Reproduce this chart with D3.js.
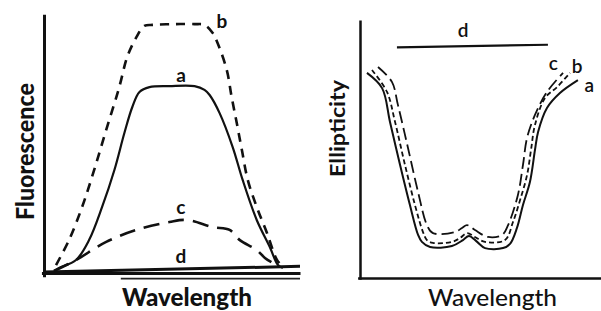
<!DOCTYPE html>
<html>
<head>
<meta charset="utf-8">
<script src="https://cdn.jsdelivr.net/npm/d3@7"></script>
<style>
  body { margin: 0; background: #fff; }
  text { font-family: Lato, "Open Sans", sans-serif; fill: #111; }
</style>
</head>
<body>
<script>
// fluorescence panel, wavelength (0-100) vs intensity (0-100)
const fluorA = [[3.9,0.8],[5.9,2.0],[12.5,5.1],[17.6,12.9],[22.7,25.9],[27.5,40.4],[31.4,54.9],[34.5,65.1],[37.3,71.0],[41.2,72.9],[49,73.3],[58.8,73.3],[62.7,71.8],[64.7,69.8],[68.6,62.7],[73.7,49.4],[77.6,36.5],[83.1,20.8],[88.2,10.2],[91.4,3.1],[93.3,2.0]];
const fluorB = [[4.7,3.1],[9.8,13],[14.9,25.9],[19.6,40.4],[24.3,56.1],[29.4,72.9],[32.5,84.7],[36.1,92.5],[39.2,96.9],[42.4,97.3],[51,97.6],[58.8,97.6],[62.7,97.3],[65.9,94.1],[67.8,90.2],[71.4,79.6],[73.3,69],[75.3,58.8],[77.3,48.2],[79.6,36.5],[83.1,25.9],[87.1,15.7],[91,5.1],[93.3,2.4]];
const fluorC = [[3.9,0.8],[12.5,5.1],[24.3,12.2],[36.1,16.9],[49,20],[55.7,20.8],[65.9,18],[72.5,16.9],[76.5,12.9],[83.1,9],[86.3,5.9],[89.4,3.9]];
const fluorD = [[0,0.4],[100,2.6]];

// CD panel, wavelength (0-100) vs ellipticity (0-100)
const cdA = [[2.9,79.5],[9.2,73.6],[12.5,60.5],[16.7,43.8],[20.8,28.3],[24.2,16.7],[25.8,14],[29.2,12],[38.3,12.4],[42.9,14.7],[45.4,16.3],[48.8,14],[52.1,11.6],[59.6,11.6],[62.5,13.2],[65.4,19.4],[67.9,28.3],[70.8,37.2],[72.9,49.6],[74.2,56.6],[77.9,65.9],[83.3,71.7],[90.8,76.7]];
const cdB = [[5,80.6],[11.25,72.1],[14.6,60.5],[18.75,43.8],[22.9,28.3],[26.25,17.8],[27.9,14.7],[30.4,13.6],[38.3,14],[41.7,15.5],[44.6,17.4],[47.9,15.9],[52.1,14],[60.4,14.7],[63.75,21.7],[66.7,30.2],[69.6,39.9],[71.25,49.6],[72.9,59.3],[77.1,69.8],[82.1,74],[87.5,79.5]];
const cdC = [[7.5,81.8],[13.3,76],[15.8,67.1],[20,50.4],[24.2,33.3],[27.9,20.5],[30.4,17.4],[39.6,17.8],[42.5,19.4],[44.6,20.5],[47.9,18.6],[53.3,15.9],[59.2,16.7],[61.7,20.5],[65.8,32.2],[67.9,43.8],[69.6,54.3],[72.9,63.2],[77.9,72.1],[84.6,79.5]];
const cdD = [[15.4,89.4],[78.3,90.4]];

const fluorLabels = [["a",53.5,75],["b",69.5,96],["c",53.5,23],["d",53.5,4]];
const cdLabels = [["d",43,93.5],["c",80.5,80.5],["b",90.5,79.5],["a",95.5,72]];

const width = 601, height = 311;

const svg = d3.select('body')
  .append('svg')
  .attr('width', width)
  .attr('height', height)
  .style('background-color', '#fff');

// scales
const lx = d3.scaleLinear().domain([0, 100]).range([44, 300]);
const ly = d3.scaleLinear().domain([0, 100]).range([273, 18]);
const rx = d3.scaleLinear().domain([0, 100]).range([360, 600]);
const ry = d3.scaleLinear().domain([0, 100]).range([278, 20]);

function drawAxes(xs, ys, xExt, yExt, w) {
  const xa = d3.scaleLinear().domain(xExt).range(xExt.map(xs));
  const ya = d3.scaleLinear().domain(yExt).range(yExt.map(ys));
  svg.append('g')
    .attr('transform', 'translate(0,' + ys(0) + ')')
    .call(d3.axisBottom(xa).ticks(0).tickSizeOuter(0))
    .select('.domain').attr('stroke', '#111').attr('stroke-width', w);
  svg.append('g')
    .attr('transform', 'translate(' + xs(0) + ',0)')
    .call(d3.axisLeft(ya).ticks(0).tickSizeOuter(0))
    .select('.domain').attr('stroke', '#111').attr('stroke-width', w);
}

drawAxes(lx, ly, [-1, 100], [-1.5, 101.5], 3);
drawAxes(rx, ry, [-1, 101], [-0.5, 100], 2.5);

// second (offset) baseline under the left plot
svg.append('line')
  .attr('x1', lx(30)).attr('x2', lx(100))
  .attr('y1', ly(-2.2)).attr('y2', ly(-2.2))
  .attr('stroke', '#222').attr('stroke-width', 1.8);

function drawLine(data, xs, ys, dash, w) {
  const line = d3.line()
    .x(d => xs(d[0]))
    .y(d => ys(d[1]))
    .curve(d3.curveCatmullRom.alpha(0.5));
  svg.append('path')
    .datum(data)
    .attr('d', line)
    .attr('fill', 'none')
    .attr('stroke', '#111')
    .attr('stroke-width', w)
    .attr('stroke-dasharray', dash)
    .attr('stroke-linecap', 'butt');
}

// left panel
drawLine(fluorD, lx, ly, null, 3);
drawLine(fluorC, lx, ly, '16,9', 2.6);
drawLine(fluorB, lx, ly, '9,7', 2.6);
drawLine(fluorA, lx, ly, null, 2.2);

// right panel
drawLine(cdD, rx, ry, null, 2.2);
drawLine(cdC, rx, ry, '12,5', 1.8);
drawLine(cdB, rx, ry, '5,3', 1.8);
drawLine(cdA, rx, ry, null, 2);

svg.selectAll('.flab')
  .data(fluorLabels)
  .enter()
  .append('text')
  .attr('class', 'flab')
  .attr('x', d => lx(d[1]))
  .attr('y', d => ly(d[2]))
  .attr('text-anchor', 'middle')
  .style('font-size', '19px')
  .style('font-weight', 700)
  .text(d => d[0]);

svg.selectAll('.clab')
  .data(cdLabels)
  .enter()
  .append('text')
  .attr('class', 'clab')
  .attr('x', d => rx(d[1]))
  .attr('y', d => ry(d[2]))
  .attr('text-anchor', 'middle')
  .style('font-size', '19px')
  .style('font-weight', 600)
  .text(d => d[0]);

// axis titles
svg.append('text')
  .attr('x', 122).attr('y', 306)
  .attr('textLength', 130)
  .attr('lengthAdjust', 'spacingAndGlyphs')
  .style('font-size', '24px')
  .style('font-weight', 900)
  .text('Wavelength');

svg.append('text')
  .attr('transform', 'translate(34,220) rotate(-90)')
  .attr('textLength', 137)
  .attr('lengthAdjust', 'spacingAndGlyphs')
  .style('font-size', '24px')
  .style('font-weight', 900)
  .text('Fluorescence');

svg.append('text')
  .attr('x', 428).attr('y', 306)
  .attr('textLength', 129)
  .attr('lengthAdjust', 'spacingAndGlyphs')
  .style('font-size', '23px')
  .style('font-weight', 500)
  .text('Wavelength');

svg.append('text')
  .attr('transform', 'translate(345,177) rotate(-90)')
  .attr('textLength', 97)
  .attr('lengthAdjust', 'spacingAndGlyphs')
  .style('font-size', '21px')
  .style('font-weight', 700)
  .text('Ellipticity');
</script>
</body>
</html>
